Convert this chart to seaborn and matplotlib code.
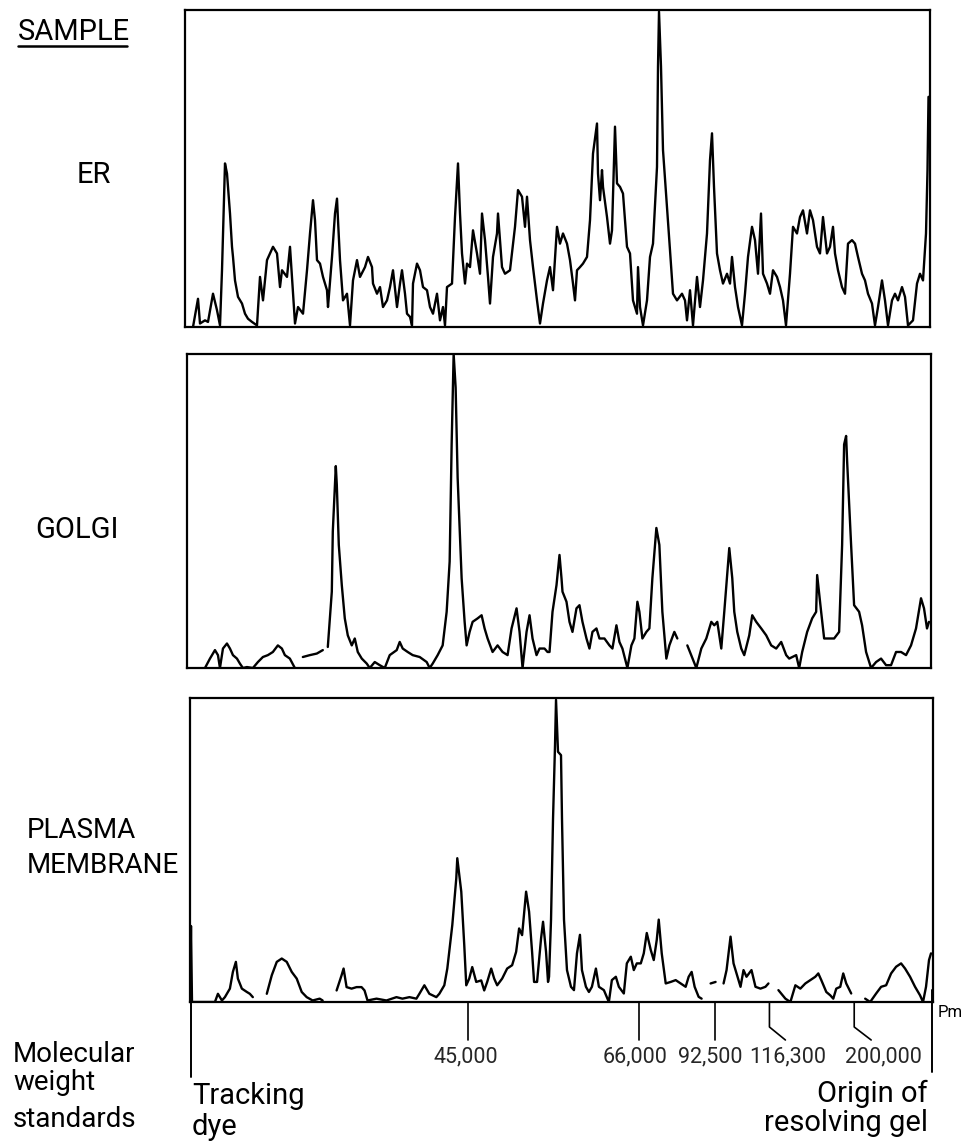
import numpy as np
import pandas as pd
import matplotlib
matplotlib.use("Agg")
import matplotlib.pyplot as plt
import seaborn as sns
from matplotlib.lines import Line2D

# densitometer scans of SDS gels, position along the scan (0 = tracking dye end)
# and peak height as % of full scale. NaN = gap in the printed trace
er_pos = [8, 13, 15, 20, 23, 28, 32, 35, 37, 40,
          42, 45, 47, 48, 50, 53, 57, 60, 63, 67,
          72, 75, 78, 82, 85, 88, 92, 95, 97, 102,
          105, 108, 110, 113, 118, 122, 125, 128, 130, 132,
          135, 138, 142, 143, 147, 150, 152, 153, 155, 158,
          162, 165, 168, 172, 175, 180, 183, 187, 188, 192,
          195, 198, 202, 205, 208, 212, 215, 217, 220, 222,
          225, 227, 228, 232, 235, 238, 242, 245, 248, 252,
          255, 258, 260, 262, 267, 270, 273, 275, 277, 280,
          282, 285, 288, 292, 295, 297, 300, 303, 305, 308,
          312, 313, 317, 320, 325, 328, 330, 333, 337, 340,
          342, 345, 348, 352, 355, 358, 362, 365, 368, 372,
          375, 378, 382, 385, 388, 390, 392, 395, 398, 402,
          405, 408, 412, 413, 415, 417, 418, 422, 425, 427,
          430, 432, 435, 438, 442, 445, 448, 452, 453, 455,
          458, 462, 465, 468, 472, 473, 474, 476, 478, 482,
          485, 488, 492, 497, 500, 502, 505, 508, 512, 515,
          518, 522, 525, 527, 529, 532, 535, 538, 542, 545,
          547, 550, 553, 557, 560, 563, 567, 570, 573, 576,
          578, 582, 585, 588, 592, 595, 598, 601, 605, 608,
          612, 615, 618, 622, 625, 628, 632, 635, 638, 642,
          645, 648, 650, 653, 657, 660, 663, 667, 670, 673,
          677, 680, 683, 687, 690, 693, 697, 700, 703, 707,
          710, 713, 717, 720, 723, 728, 732, 735, 738, 741,
          742.5, 743.5, 745]
er_val = [0, 8.9, 1.1, 2.1, 1.6, 10.5, 5.3, 0.5, 17.9, 51.6,
          48.4, 35.8, 25.3, 22.1, 14.7, 9.5, 7.4, 4.2, 2.6, 1.6,
          0.5, 15.8, 8.4, 21.1, 23.2, 25.3, 23.2, 12.6, 17.9, 15.8,
          25.3, 10.5, 1.1, 6.3, 4.2, 17.9, 29.5, 40, 33.7, 21.1,
          20, 15.8, 11.6, 6.3, 22.1, 35.8, 40.5, 33.7, 21.1, 8.4,
          10.5, 0.5, 14.7, 21.1, 15.8, 18.9, 22.1, 18.9, 13.7, 10.5,
          12.6, 6.3, 8.4, 12.6, 17.9, 6.3, 13.7, 17.9, 10.5, 4.2,
          3.2, 0.5, 13.7, 20, 17.9, 12.6, 11.6, 6.3, 4.2, 10.5,
          2.1, 6.3, 0.5, 12.6, 13.7, 34.7, 51.6, 35.8, 23.2, 13.7,
          20, 18.9, 30.5, 23.2, 16.8, 35.8, 27.4, 15.8, 7.4, 22.1,
          29.5, 35.8, 18.9, 16.8, 17.9, 26.3, 31.6, 43.2, 41.1, 31.6,
          41.1, 27.4, 18.9, 8.4, 1.1, 7.4, 14.7, 18.9, 11.6, 31.6,
          26.3, 29.5, 26.3, 21.1, 13.7, 8.4, 17.9, 18.9, 20, 22.1,
          33.7, 54.7, 64.2, 48.4, 40, 49.5, 44.2, 34.7, 26.3, 30.5,
          63.2, 45.3, 44.2, 42.1, 25.3, 23.2, 8.4, 4.2, 18.9, 6.3,
          0.5, 8.4, 22.1, 26.3, 50.5, 82.1, 99.5, 82.1, 55.8, 37.9,
          24.2, 10.5, 8.4, 10.5, 8.4, 2.1, 11.6, 0.5, 15.8, 6.3,
          14.7, 29.5, 52.6, 61.1, 44.2, 23.2, 17.9, 13.7, 16.8, 13.7,
          22.1, 12.6, 6.3, 0.5, 10.5, 22.1, 31.6, 27.4, 16.8, 35.8,
          16.8, 13.7, 10.5, 17.9, 15.8, 12.6, 8.4, 0.5, 16.8, 31.6,
          29.5, 34.7, 36.8, 29.5, 36.8, 33.7, 25.3, 23.2, 34.7, 23.2,
          25.3, 31.6, 23.2, 17.9, 12.6, 10.5, 26.3, 27.4, 26.3, 22.1,
          16.8, 14.7, 10.5, 7.4, 0.5, 6.3, 14.7, 8.4, 0.5, 8.4,
          10.5, 8.4, 12.6, 9.5, 0.5, 2.1, 13.7, 16.8, 14.7, 29.5,
          49.5, 72.6, 72.6]

golgi_pos = [18, 23, 28, 31, 33, 36, 40, 43, 46, 50,
             53, 56, 60, 66, 71, 76, 81, 86, 91, 95,
             98, 103, 108, 112, 116, 123, 130, 136, 139, 141,
             145, 146, 149, 150, 152, 155, 158, 161, 165, 168,
             171, 175, 180, 183, 188, 193, 198, 203, 210, 213,
             216, 221, 226, 233, 240, 243, 246, 251, 256, 260,
             263, 265, 267, 269, 271, 275, 278, 280, 283, 286,
             291, 295, 298, 301, 306, 311, 316, 321, 325, 330,
             333, 336, 340, 343, 346, 350, 353, 358, 361, 363,
             366, 370, 373, 375, 376, 380, 383, 386, 390, 393,
             396, 400, 403, 406, 410, 413, 418, 423, 426, 430,
             433, 436, 441, 445, 448, 451, 453, 456, 460, 463,
             466, 470, 473, 476, 480, 483, 488, 491, 496, 501,
             510, 515, 520, 525, 528, 531, 535, 538, 543, 546,
             548, 551, 555, 558, 563, 566, 570, 575, 580, 585,
             590, 595, 600, 603, 610, 613, 616, 621, 626, 630,
             631, 635, 638, 643, 648, 653, 656, 658, 660, 661,
             665, 668, 673, 676, 680, 685, 690, 695, 700, 705,
             710, 715, 720, 725, 730, 735, 738, 741, 743]
golgi_val = [0, 3, 5.7, 4.1, 0, 6.2, 7.8, 6.2, 4.1, 3,
             1.4, 0, 0.3, 0, 1.9, 3.5, 4.1, 5.1, 7.2, 6.2,
             4.1, 3, 0, np.nan, 3.5, 4.1, 4.6, 5.7, np.nan, 6.7,
             24.3, 43.5, 64.3, 58.4, 39.2, 26.4, 15.8, 10.4, 7.2, 9.4,
             5.1, 3, 1.4, 0, 1.9, 0.9, 0, 4.1, 5.7, 8.3,
             6.2, 5.1, 4.1, 3.5, 1.9, 0, 1.4, 4.1, 7.2, 17.9,
             33.9, 71.2, 100, 89.3, 60.6, 28.6, 14.7, 7.2, 11.5, 14.7,
             15.8, 16.8, 12.6, 9.4, 5.1, 7.2, 5.1, 4.1, 12.6, 19,
             11.5, 0, 11.5, 16.8, 9.4, 4.1, 6.2, 6.2, 5.1, 5.1,
             17.9, 26.4, 36, 28.6, 24.3, 21.1, 14.7, 11.5, 19, 20,
             14.7, 9.4, 6.2, 11.5, 12.6, 9.4, 9.4, 7.2, 6.2, 13.6,
             8.3, 6.2, 0, 7.2, 9.4, 21.1, 17.9, 9.4, 11.5, 12.6,
             28.6, 44.6, 39.2, 17.9, 3, 7.2, 11.5, 9.4, np.nan, 7.2,
             0, 6.2, 9.4, 14.7, 13.6, 14.7, 6.2, 17.9, 38.2, 28.6,
             17.9, 11.5, 6.2, 4.1, 10.4, 16.8, 14.7, 12.6, 10.4, 7.2,
             6.2, 8.3, 4.1, 3, 4.1, 0, 5.1, 11.5, 15.8, 17.9,
             29.6, 17.9, 9.4, 9.4, 9.4, 11.5, 39.2, 71.2, 73.9, 65.9,
             39.2, 20, 17.9, 13.6, 5.1, 0, 1.9, 3, 0.9, 0.9,
             5.1, 5.1, 4.1, 7.2, 12.6, 22.2, 19, 12.6, 14.7]

pm_pos = [0, 1, 2, 25, 28, 32, 35, 40, 43, 46,
          48, 52, 57, 60, 63, 70, 77, 82, 87, 92,
          97, 102, 107, 112, 117, 123, 130, 133, 140, 147,
          152, 154, 157, 162, 167, 172, 175, 178, 187, 197,
          207, 213, 220, 227, 230, 235, 240, 247, 250, 255,
          258, 263, 267, 268, 272, 275, 277, 280, 283, 287,
          292, 295, 298, 302, 305, 308, 313, 318, 323, 327,
          330, 333, 337, 340, 343, 345, 348, 352, 354, 357,
          359, 360, 362, 364, 366, 367, 369, 372, 373, 375,
          378, 382, 385, 388, 391, 393, 397, 400, 403, 407,
          410, 415, 420, 423, 427, 430, 435, 438, 442, 445,
          448, 452, 455, 458, 462, 465, 468, 470, 473, 477,
          482, 487, 492, 497, 500, 503, 506, 510, 513, 517,
          522, 527, 531, 535, 538, 542, 545, 548, 552, 555,
          558, 563, 567, 572, 577, 580, 585, 590, 597, 602,
          607, 612, 617, 622, 627, 630, 633, 638, 642, 645,
          648, 652, 655, 658, 663, 670, 677, 682, 688, 693,
          698, 703, 708, 713, 717, 722, 727, 732, 735, 738,
          741, 743]
pm_val = [0, 25, 0, 0, 2.7, 0.5, 1.6, 4.4, 9.9, 13.2,
          7.7, 4.4, 3.3, 2.7, 1.6, np.nan, 2.7, 8.8, 13.2, 14.3,
          13.2, 9.9, 7.7, 3.3, 1.6, 0.5, 1.1, 0.5, np.nan, 3.8,
          8.8, 11, 4.9, 4.4, 4.9, 4.9, 3.8, 0.5, 1.1, 0.5,
          1.6, 1.1, 1.6, 1.1, 2.7, 5.5, 2.7, 1.6, 2.7, 5.5,
          11, 25.3, 40.7, 47.3, 36.3, 18.7, 5.5, 7.7, 11.5, 6.6,
          7.1, 3.8, 6.6, 11, 7.7, 5.5, 7.7, 11, 12.1, 16.5,
          24.2, 22, 36.3, 29.7, 16.5, 6.6, 6.6, 20.9, 26.4, 16.5,
          6.6, 8.3, 27.1, 60.2, 84.5, 99.4, 82.3, 81.2, 60.2, 27.1,
          10.5, 5, 3.9, 16, 22.1, 10.5, 5, 3.3, 5, 11,
          5, 3.9, 0, 7.2, 8.3, 5, 2.8, 12.7, 14.9, 10.5,
          12.7, 12.7, 16, 22.7, 17.1, 13.8, 20.4, 27.1, 16, 6.1,
          6.6, 7.2, 6.1, 5, 8.3, 9.9, 5, 1.7, 1.1, np.nan,
          6.1, 6.6, np.nan, 6.1, 10.5, 21.5, 12.7, 9.4, 5, 10.5,
          8.3, 10.5, 5, 4.4, 5, 6.1, np.nan, 3.9, 1.1, 0,
          5.5, 4.4, 6.1, 7.2, 8.3, 9.4, 7.2, 3.3, 2.2, 1.1,
          4.4, 5, 9.4, 6.1, 2.8, np.nan, 1.1, 0, 2.8, 5,
          5.5, 9.4, 11.6, 12.7, 11, 8.3, 5, 2.2, 0, 5,
          13.8, 16]

# molecular weight standards and where they run on the scan
mw_labels = ["45,000", "66,000", "92,500", "116,300", "200,000"]
mw_pos = [279, 450, 526, 581, 666]

W, H = 965, 1142
sns.set_style("white")
plt.rcParams["font.family"] = ["Roboto", "DejaVu Sans"]


def box(l, t, r, b):
    return [l / W, 1 - b / H, (r - l) / W, (b - t) / H]


def trace_frame(pos, val):
    df = pd.DataFrame({"pos": pos, "val": val})
    df["seg"] = df["val"].isna().cumsum()
    return df.dropna()


def label(px, py, s, size, ha="left"):
    fig.text(px / W, 1 - py / H, s, fontsize=size, ha=ha, va="baseline", color="black")


fig = plt.figure(figsize=(W / 100, H / 100), dpi=100)

panels = [
    (box(185, 10, 930, 327), er_pos, er_val),
    (box(187, 354, 931, 668), golgi_pos, golgi_val),
    (box(190, 698, 933, 1002), pm_pos, pm_val),
]
for rect, pos, val in panels:
    ax = fig.add_axes(rect)
    df = trace_frame(pos, val)
    sns.lineplot(data=df, x="pos", y="val", units="seg", estimator=None, sort=False,
                 color="black", linewidth=1.7, ax=ax)
    ax.set_xlim(0, 745)
    ax.set_ylim(0, 100)
    ax.set_xticks([])
    ax.set_yticks([])
    ax.set_xlabel("")
    ax.set_ylabel("")
    for sp in ax.spines.values():
        sp.set_visible(True)
        sp.set_color("black")
        sp.set_linewidth(1.6)

# molecular weight marker strip under the last scan
axm = fig.add_axes(box(190, 1002, 933, 1142))
axm.set_xlim(0, 745)
axm.set_ylim(140, 0)
axm.axis("off")
bend = {"116,300": 16, "200,000": 17}
label_shift = {"45,000": -2, "66,000": -4, "92,500": -4, "116,300": 18, "200,000": 29}
for name, p in zip(mw_labels, mw_pos):
    if name in bend:
        axm.plot([p, p, p + bend[name]], [0, 25, 38], color="black", lw=1.2, clip_on=False)
    else:
        axm.plot([p, p], [0, 38], color="black", lw=1.2, clip_on=False)
    axm.text(p + label_shift[name], 60, name, ha="center", va="baseline", fontsize=15.5)
axm.plot([1.5, 1.5], [0, 75], color="black", lw=1.4, clip_on=False)
axm.plot([744, 744], [-12, 70], color="black", lw=1.4, clip_on=False)

# left hand labels
label(18, 40, "SAMPLE", 21)
fig.add_artist(Line2D([18 / W, 127 / W], [1 - 46 / H, 1 - 46 / H], color="black", lw=1.8))
label(77, 183, "ER", 21)
label(35, 538, "GOLGI", 21)
label(27, 838, "PLASMA", 20)
label(27, 873, "MEMBRANE", 20)
label(13, 1062, "Molecular", 20)
label(13, 1090, "weight", 20)
label(13, 1127, "standards", 20)
label(192, 1104, "Tracking", 21)
label(192, 1135, "dye", 21)
label(928, 1102, "Origin of", 21, ha="right")
label(928, 1131, "resolving gel", 21, ha="right")
label(938, 1017, "Pm", 12)

fig.savefig("out.png", dpi=100, facecolor="white")
